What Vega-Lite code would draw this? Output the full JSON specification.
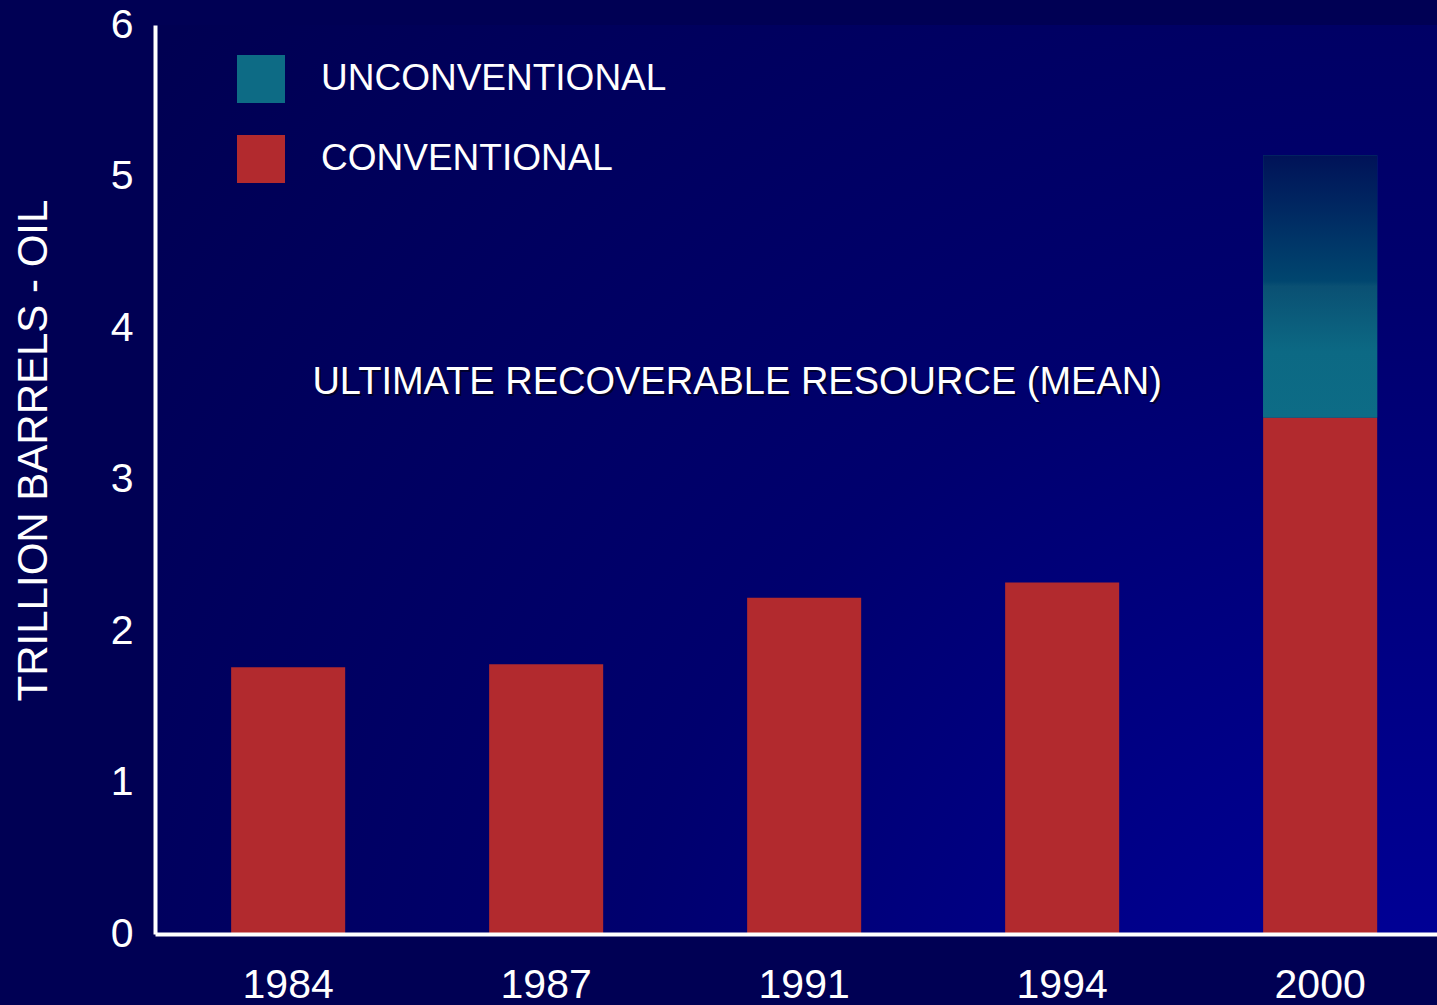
{
  "$schema": "https://vega.github.io/schema/vega-lite/v6.json",
  "width": 1282,
  "height": 909,
  "autosize": {"type": "none"},
  "padding": {"left": 155, "top": 25, "right": 0, "bottom": 71},
  "background": "#000054",
  "config": {
    "font": "Liberation Sans",
    "view": {
      "stroke": null,
      "fill": {
        "gradient": "radial",
        "x1": 1, "y1": 1, "r1": 0,
        "x2": 1, "y2": 1, "r2": 1.3,
        "stops": [
          {"offset": 0, "color": "#0000a0"},
          {"offset": 0.5, "color": "#00006e"},
          {"offset": 1, "color": "#000052"}
        ]
      }
    }
  },
  "data": {
    "values": [
      {"year": "1984", "type": "CONVENTIONAL", "value": 1.76},
      {"year": "1987", "type": "CONVENTIONAL", "value": 1.78},
      {"year": "1991", "type": "CONVENTIONAL", "value": 2.22},
      {"year": "1994", "type": "CONVENTIONAL", "value": 2.32},
      {"year": "2000", "type": "CONVENTIONAL", "value": 3.41},
      {"year": "2000", "type": "UNCONVENTIONAL", "value": 1.73}
    ]
  },
  "layer": [
    {
      "transform": [
        {"stack": "value", "groupby": ["year"], "sort": [{"field": "type", "order": "ascending"}], "as": ["v0", "v1"]}
      ],
      "mark": {"type": "bar"},
      "encoding": {
        "x": {
          "field": "year",
          "type": "nominal",
          "scale": {"paddingInner": 0.558, "paddingOuter": 0.2635, "align": 0.56},
          "axis": {
            "title": null,
            "labelFontSize": 41,
            "labelColor": "white",
            "labelAngle": 0,
            "labelPadding": 31,
            "labelBaseline": "top",
            "ticks": false,
            "domainColor": "white",
            "domainWidth": 4,
            "zindex": 1
          }
        },
        "y": {
          "field": "v1",
          "type": "quantitative",
          "scale": {"domain": [0, 6]},
          "axis": {
            "values": [0, 1, 2, 3, 4, 5, 6],
            "format": "d",
            "title": "TRILLION BARRELS - OIL",
            "titleFontSize": 42,
            "titleFontWeight": "normal",
            "titleColor": "white",
            "titleAngle": -90,
            "titleX": -122,
            "titleY": 425,
            "titleAlign": "center",
            "titleBaseline": "middle",
            "labelFontSize": 41,
            "labelColor": "white",
            "labelPadding": 22,
            "ticks": false,
            "grid": false,
            "domainColor": "white",
            "domainWidth": 4,
            "zindex": 1
          }
        },
        "y2": {"field": "v0"},
        "color": {
          "field": "type",
          "type": "nominal",
          "scale": {"domain": ["UNCONVENTIONAL", "CONVENTIONAL"], "range": ["#0d6b85", "#b22a2e"]},
          "legend": {
            "title": null,
            "orient": "none",
            "legendX": 82,
            "legendY": 30,
            "padding": 0,
            "symbolType": "square",
            "symbolSize": 2304,
            "symbolStrokeWidth": 0,
            "symbolOpacity": 1,
            "labelFontSize": 37,
            "labelColor": "white",
            "labelOffset": 36,
            "labelLimit": 600,
            "rowPadding": 32
          }
        }
      }
    },
    {
      "transform": [
        {"stack": "value", "groupby": ["year"], "sort": [{"field": "type", "order": "ascending"}], "as": ["v0", "v1"]},
        {"filter": "datum.type === 'UNCONVENTIONAL'"}
      ],
      "mark": {
        "type": "bar",
        "fill": {
          "gradient": "linear",
          "x1": 0, "y1": 0, "x2": 0, "y2": 1,
          "stops": [
            {"offset": 0, "color": "#001258"},
            {"offset": 0.48, "color": "#00466f"},
            {"offset": 0.5, "color": "#0a5073"},
            {"offset": 0.75, "color": "#0c6984"},
            {"offset": 1, "color": "#0d6c86"}
          ]
        }
      },
      "encoding": {
        "x": {"field": "year", "type": "nominal"},
        "y": {"field": "v1", "type": "quantitative"},
        "y2": {"field": "v0"}
      }
    },
    {
      "data": {"values": [{"label": "ULTIMATE RECOVERABLE RESOURCE (MEAN)"}]},
      "mark": {"type": "text", "fontSize": 38, "color": "#000018", "opacity": 0.7, "dx": -65, "dy": 2, "align": "center", "baseline": "middle"},
      "encoding": {
        "text": {"field": "label"},
        "x": {"datum": "1991", "type": "nominal"},
        "y": {"datum": 3.64, "type": "quantitative"}
      }
    },
    {
      "data": {"values": [{"label": "ULTIMATE RECOVERABLE RESOURCE (MEAN)"}]},
      "mark": {"type": "text", "fontSize": 38, "color": "white", "dx": -67, "align": "center", "baseline": "middle"},
      "encoding": {
        "text": {"field": "label"},
        "x": {"datum": "1991", "type": "nominal"},
        "y": {"datum": 3.64, "type": "quantitative"}
      }
    }
  ]
}
